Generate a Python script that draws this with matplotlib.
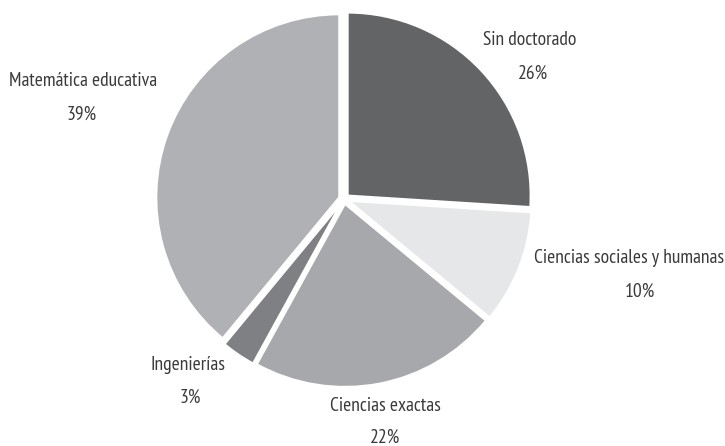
import matplotlib
matplotlib.use("Agg")
import matplotlib.pyplot as plt
import numpy as np

categories = ["Sin doctorado", "Ciencias sociales y humanas", "Ciencias exactas",
              "Ingenierías", "Matemática educativa"]
values = [26, 10, 22, 3, 39]
colors = ["#636466", "#e6e7e8", "#a7a8ab", "#7f8083", "#b0b1b4"]

# label layout (pixels relative to the pie centre; y up)
name_pos = [(186, 159), (285, -59), (41, -207), (-156, -166), (-261, 118)]
pct_pos = [(189, 125), (296, -93), (41, -239), (-154, -199), (-262, 84)]

plt.rcParams['font.family'] = ['PT Sans Narrow', 'DejaVu Sans']

W, H = 725, 446
cx, cy = 344, 199
R = 183

fig = plt.figure(figsize=(W / 100, H / 100), dpi=100)
ax = fig.add_axes([0, 0, 1, 1])
ax.set_xlim(-cx, W - cx)
ax.set_ylim(-(H - cy), cy)
ax.set_aspect('equal')
ax.axis('off')

ax.pie(values, colors=colors, startangle=90, counterclock=False, radius=R,
       explode=[5] * len(values), center=(0, 0),
       wedgeprops=dict(edgecolor='white', linewidth=1.5))
ax.set_xlim(-cx, W - cx)
ax.set_ylim(-(H - cy), cy)

for name, v, (nx, ny), (px, py) in zip(categories, values, name_pos, pct_pos):
    ax.text(nx, ny, name, ha='center', va='center', fontsize=14, color='#3a3a3c')
    ax.text(px, py, f"{v}%", ha='center', va='center', fontsize=14, color='#3a3a3c')

fig.savefig("out.png", dpi=100, facecolor='white')
